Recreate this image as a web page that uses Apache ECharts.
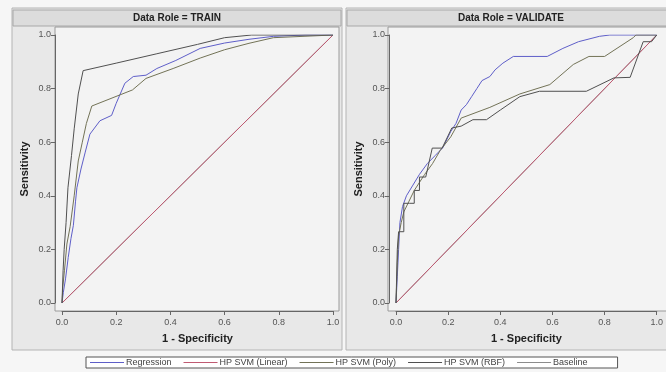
<!DOCTYPE html>
<html>
<head>
<meta charset="utf-8">
<script src="https://cdn.jsdelivr.net/npm/echarts@6/dist/echarts.min.js"></script>
<style>
  html, body { margin: 0; padding: 0; background: #f6f6f6; }
  #chart { width: 666px; height: 372px; }
</style>
</head>
<body>
<div id="chart"></div>
<script>
const seriesNames = ['Regression', 'HP SVM (Linear)', 'HP SVM (Poly)', 'HP SVM (RBF)', 'Baseline']
const seriesColors = ['#5e5ec8', '#c05a72', '#727256', '#505050', '#8c8c8c']
const panelTitles = ['Data Role = TRAIN', 'Data Role = VALIDATE']

// [1 - specificity, sensitivity]
const baseline = [[0, 0], [1, 1]]

const trainRegression = [[0, 0], [0.005, 0.04], [0.013, 0.09], [0.023, 0.17], [0.033, 0.24], [0.042, 0.29],
  [0.05, 0.38], [0.055, 0.43], [0.07, 0.5], [0.085, 0.56], [0.103, 0.63], [0.14, 0.68], [0.183, 0.7],
  [0.2, 0.745], [0.232, 0.82], [0.263, 0.845], [0.31, 0.85], [0.35, 0.875], [0.42, 0.905], [0.51, 0.95],
  [0.6, 0.97], [0.69, 0.984], [0.78, 0.995], [0.9, 1], [1, 1]]
const trainLinear = [[0, 0], [1, 1]]
const trainPoly = [[0, 0], [0.003, 0.06], [0.009, 0.12], [0.018, 0.22], [0.03, 0.285], [0.045, 0.4],
  [0.06, 0.53], [0.075, 0.6], [0.09, 0.67], [0.11, 0.735], [0.26, 0.795], [0.31, 0.838], [0.41, 0.875],
  [0.51, 0.914], [0.6, 0.945], [0.69, 0.969], [0.78, 0.99], [1, 1]]
const trainRbf = [[0, 0], [0.004, 0.12], [0.008, 0.2], [0.015, 0.3], [0.022, 0.43], [0.035, 0.55],
  [0.045, 0.65], [0.06, 0.78], [0.078, 0.867], [0.2, 0.895], [0.35, 0.93], [0.5, 0.965], [0.6, 0.99],
  [0.7, 1], [1, 1]]

const validRegression = [[0, 0], [0.005, 0.1], [0.01, 0.2], [0.015, 0.3], [0.025, 0.36], [0.04, 0.4],
  [0.065, 0.44], [0.09, 0.48], [0.12, 0.52], [0.15, 0.55], [0.18, 0.58], [0.21, 0.64], [0.23, 0.67],
  [0.25, 0.72], [0.27, 0.74], [0.29, 0.77], [0.31, 0.8], [0.33, 0.83], [0.36, 0.845], [0.38, 0.87],
  [0.41, 0.895], [0.45, 0.92], [0.58, 0.92], [0.64, 0.95], [0.7, 0.975], [0.78, 0.995], [0.82, 1], [1, 1]]
const validLinear = [[0, 0], [1, 1]]
const validPoly = [[0, 0], [0.005, 0.15], [0.01, 0.25], [0.02, 0.3], [0.03, 0.34], [0.05, 0.38],
  [0.07, 0.42], [0.09, 0.45], [0.11, 0.48], [0.14, 0.52], [0.17, 0.57], [0.21, 0.62], [0.25, 0.69],
  [0.36, 0.73], [0.475, 0.78], [0.59, 0.815], [0.68, 0.89], [0.74, 0.92], [0.8, 0.92], [0.91, 0.99],
  [0.92, 1], [1, 1]]
const validRbf = [[0, 0], [0.005, 0.2], [0.01, 0.266], [0.03, 0.266], [0.03, 0.372], [0.052, 0.372],
  [0.07, 0.372], [0.07, 0.42], [0.09, 0.42], [0.09, 0.47], [0.114, 0.47], [0.139, 0.578], [0.177, 0.578],
  [0.214, 0.653], [0.25, 0.66], [0.295, 0.684], [0.347, 0.684], [0.4, 0.72], [0.475, 0.77], [0.55, 0.79],
  [0.73, 0.79], [0.836, 0.84], [0.898, 0.842], [0.948, 0.975], [0.98, 0.975], [1, 1]]

const trainData = [trainRegression, trainLinear, trainPoly, trainRbf, baseline]
const validData = [validRegression, validLinear, validPoly, validRbf, baseline]

const font = '"Liberation Sans", Arial, sans-serif'
const grids = [
  { left: 62, top: 35, width: 271, height: 268 },
  { left: 396, top: 35, width: 268, height: 268 }
]
const frames = [
  { x: 55, y: 27, w: 284, h: 284, panelX: 12, panelW: 330 },
  { x: 388, y: 27, w: 290, h: 284, panelX: 346, panelW: 330 }
]

const chart = echarts.init(document.getElementById('chart'), null, { renderer: 'canvas' })

function axisX(i) {
  return {
    type: 'value', gridIndex: i, min: 0, max: 1, interval: 0.2, offset: 8,
    name: '1 - Specificity', nameLocation: 'middle', nameGap: 22,
    nameTextStyle: { fontFamily: font, fontSize: 11, fontWeight: 'bold', color: '#222' },
    axisLine: { show: true, onZero: false, lineStyle: { color: '#666' } },
    axisTick: { show: true, length: 4, lineStyle: { color: '#666' } },
    axisLabel: { fontFamily: font, fontSize: 9, color: '#555', margin: 7,
      formatter: v => v.toFixed(1) },
    splitLine: { show: false }
  }
}
function axisY(i) {
  return {
    type: 'value', gridIndex: i, min: 0, max: 1, interval: 0.2, offset: 7,
    name: 'Sensitivity', nameLocation: 'middle', nameGap: 25, nameRotate: 90,
    nameTextStyle: { fontFamily: font, fontSize: 11, fontWeight: 'bold', color: '#222' },
    axisLine: { show: true, onZero: false, lineStyle: { color: '#666' } },
    axisTick: { show: true, length: 4, lineStyle: { color: '#666' } },
    axisLabel: { fontFamily: font, fontSize: 9, color: '#555', margin: 4,
      formatter: v => v.toFixed(1) },
    splitLine: { show: false }
  }
}

const series = []
;[trainData, validData].forEach((set, gi) => {
  // baseline first so the model curves sit on top
  const order = [4, 1, 0, 2, 3]
  order.forEach(k => {
    series.push({
      name: seriesNames[k], type: 'line', xAxisIndex: gi, yAxisIndex: gi,
      data: set[k], symbol: 'none', animation: false,
      lineStyle: { color: seriesColors[k], width: 1 },
      itemStyle: { color: seriesColors[k] },
      z: 3
    })
  })
})

const graphics = []
frames.forEach((f, i) => {
  graphics.push({ type: 'rect', shape: { x: f.panelX, y: 8, width: f.panelW, height: 342 },
    style: { fill: '#e8e8e8', stroke: '#b4b4b4', lineWidth: 1 }, z: -10 })
  graphics.push({ type: 'rect', shape: { x: f.panelX + 1, y: 10, width: f.panelW - 2, height: 16 },
    style: { fill: '#dcdcdc', stroke: '#a8a8a8', lineWidth: 1 }, z: -9 })
  graphics.push({ type: 'text', x: f.panelX + f.panelW / 2, y: 18,
    style: { text: panelTitles[i], font: 'bold 10px ' + font, fill: '#222',
      textAlign: 'center', textVerticalAlign: 'middle' }, z: -8 })
  graphics.push({ type: 'rect', shape: { x: f.x, y: f.y, width: f.w, height: f.h },
    style: { fill: '#f3f3f3', stroke: '#9a9a9a', lineWidth: 1 }, z: -8 })
})

chart.setOption({
  backgroundColor: '#f6f6f6',
  animation: false,
  textStyle: { fontFamily: font },
  grid: grids,
  xAxis: [axisX(0), axisX(1)],
  yAxis: [axisY(0), axisY(1)],
  legend: {
    data: seriesNames, left: 86, top: 357, width: 540,
    icon: 'rect', itemWidth: 34, itemHeight: 1, itemGap: 12,
    backgroundColor: '#ffffff', borderColor: '#555', borderWidth: 1,
    padding: [1, 30, 1, 4],
    textStyle: { fontFamily: font, fontSize: 9, color: '#444', padding: [0, 0, 0, -3] }
  },
  graphic: graphics,
  series: series
})
</script>
</body>
</html>
